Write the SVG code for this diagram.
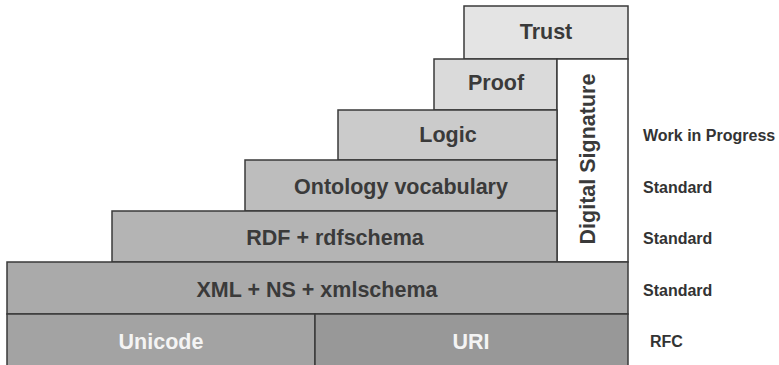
<svg xmlns="http://www.w3.org/2000/svg" width="779" height="365" viewBox="0 0 779 365">
<style>
.b{stroke:#3a3a3a;stroke-width:1.5}
.t{font-family:"Liberation Sans",Arial,sans-serif;font-weight:bold;font-size:21.5px;fill:#3a3a3a;text-anchor:middle}
.w{fill:#f4f4f4}
.s{font-family:"Liberation Sans",Arial,sans-serif;font-weight:bold;font-size:16px;fill:#333}
</style>
<rect width="779" height="365" fill="#fff"/>
<g id="trust"><rect class="b" x="464" y="6" width="164" height="53" fill="#e4e4e4"/><text class="t" x="546" y="39">Trust</text></g>
<g id="proof"><rect class="b" x="434" y="59" width="123" height="51" fill="#dadada"/><text class="t" x="496" y="90">Proof</text></g>
<g id="digsig"><rect class="b" x="557" y="59" width="71" height="203" fill="#fff"/><text class="t" transform="translate(595,159) rotate(-90)" font-size="23.5">Digital Signature</text></g>
<g id="logic"><rect class="b" x="338" y="110" width="219" height="50" fill="#cbcbcb"/><text class="t" x="448" y="142">Logic</text></g>
<g id="ontology"><rect class="b" x="245" y="160" width="312" height="51" fill="#bdbdbd"/><text class="t" x="401" y="194">Ontology vocabulary</text></g>
<g id="rdf"><rect class="b" x="112" y="211" width="445" height="51" fill="#b4b4b4"/><text class="t" x="335" y="245">RDF + rdfschema</text></g>
<g id="xml"><rect class="b" x="7" y="262" width="621" height="52" fill="#aaaaaa"/><text class="t" x="317" y="297">XML + NS + xmlschema</text></g>
<g id="unicode"><rect class="b" x="7" y="314" width="308" height="53" fill="#a3a3a3"/><text class="t w" x="161" y="349">Unicode</text></g>
<g id="uri"><rect class="b" x="315" y="314" width="313" height="53" fill="#989898"/><text class="t w" x="471" y="349">URI</text></g>
<g id="labels">
<text class="s" x="643" y="141">Work in Progress</text>
<text class="s" x="643" y="193">Standard</text>
<text class="s" x="643" y="244">Standard</text>
<text class="s" x="643" y="296">Standard</text>
<text class="s" x="650" y="347">RFC</text>
</g>
</svg>
